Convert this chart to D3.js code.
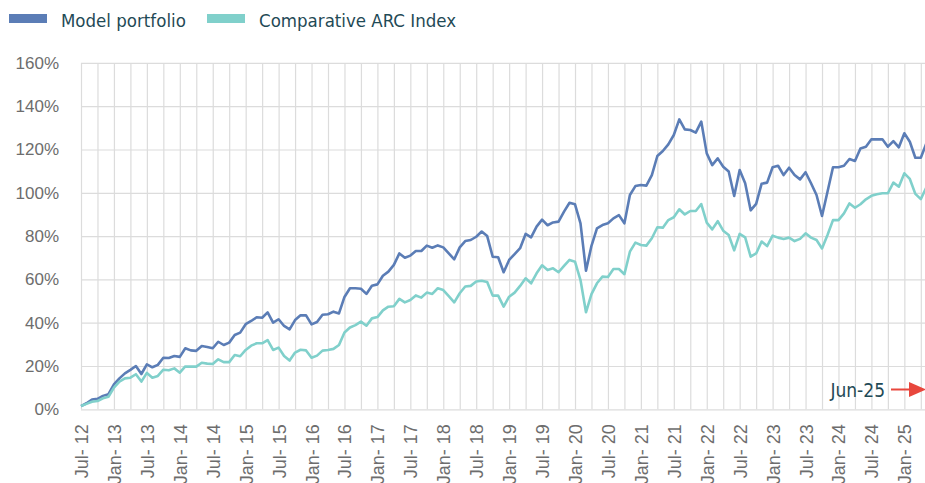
<!DOCTYPE html>
<html>
<head>
<meta charset="utf-8">
<script src="https://cdn.jsdelivr.net/npm/d3@7"></script>
<style>
  body { margin: 0; background: #fff; }
  svg { display: block; font-family: 'DejaVu Sans Condensed', 'DejaVu Sans', sans-serif; font-stretch: condensed; }
</style>
</head>
<body>
<svg id="chart" width="925" height="483"></svg>
<script>
// monthly cumulative return (%), Jul-12 .. May-25
var modelPortfolio = [
  1.5, 2.8, 4.5, 4.8, 6.2, 7, 11.5, 14.3, 16.6, 18.2, 20, 16.3,
  20.8, 19.4, 20.5, 23.8, 23.7, 24.6, 24.2, 28.2, 27.2, 27, 29.2, 28.8,
  28.2, 31.2, 29.7, 30.8, 34.3, 35.4, 39.3, 40.8, 42.5, 42.3, 44.8, 40,
  41.6, 38.5, 36.9, 41.2, 43.4, 43.4, 39.2, 40.3, 43.7, 43.9, 45.1, 44.3,
  51.9, 55.9, 55.9, 55.7, 53.3, 57.1, 57.7, 61.7, 63.6, 66.7, 72, 70,
  71, 73.1, 73.1, 75.6, 74.6, 75.7, 74.8, 72, 69.3, 74.8, 77.7, 78.2,
  79.7, 82.1, 80, 70.5, 70.2, 63.3, 69, 71.7, 74.4, 81, 79.4, 84.4,
  87.6, 85, 86.3, 86.7, 91.3, 95.4, 94.7, 85.9, 64, 75.5, 83.6, 85.1,
  85.9, 88.2, 89.7, 85.9, 99, 103.1, 103.6, 103.3, 108.2, 117, 119.3, 122.4,
  126.7, 133.9, 129.3, 129, 127.8, 132.9, 118.2, 112.8, 115.9, 112, 109.8, 98.5,
  110.5, 104.4, 91.9, 94.9, 104.2, 104.7, 111.8, 112.5, 108.2, 111.6, 108.2, 106.2,
  109.5, 104.4, 99, 89.3, 100.5, 111.8, 111.8, 112.5, 115.6, 114.7, 120.5, 121.3,
  124.7, 124.7, 124.7, 121.3, 123.9, 121, 127.5, 123.6, 116.2, 116.2, 122.8
];
var arcIndex = [
  1.5, 2.5, 3.5, 3.8, 5.1, 5.8, 10, 12.8, 14.3, 14.6, 16.2, 12.8,
  16.8, 14.6, 15.4, 18.3, 18, 18.9, 16.9, 19.8, 19.7, 19.7, 21.5, 21.1,
  20.9, 23.1, 21.8, 21.8, 25.1, 24.5, 27.4, 29.4, 30.5, 30.5, 32, 27.4,
  28.5, 24.6, 22.5, 26.2, 27.5, 27.2, 23.8, 24.8, 27.1, 27.4, 27.9, 29.7,
  35.5, 37.8, 38.9, 40.5, 38.6, 42, 42.6, 45.7, 47.4, 47.6, 51, 49.4,
  50.5, 52.6, 51.6, 53.9, 53.3, 55.9, 55.1, 52.3, 49.4, 53.6, 56.7, 57,
  59, 59.4, 58.8, 52.5, 52.5, 47.4, 52, 53.9, 57, 60.5, 58.2, 62.8,
  66.5, 64.3, 65.1, 63.3, 66.2, 69, 68.2, 59.7, 44.8, 53.2, 58.2, 61.3,
  61.1, 64.8, 64.8, 62.4, 72.8, 77, 75.9, 75.6, 79, 84.1, 83.9, 87.4,
  88.7, 92.4, 90, 91.6, 91.6, 94.8, 86.2, 83.1, 86.9, 82.5, 80.5, 73.4,
  81, 79.4, 70.5, 72, 77.5, 75.4, 80.2, 79.3, 78.7, 79.3, 77.7, 78.7,
  81.3, 79.3, 78.2, 74.3, 80.5, 87.4, 87.4, 90.5, 95.1, 93.1, 94.7, 97,
  98.6, 99.3, 99.8, 99.8, 104.7, 102.8, 109, 106.4, 99.5, 97.1, 102.4
];
var seriesNames = ["Model portfolio", "Comparative ARC Index"];
var seriesColors = ["#5b7db6", "#80d0cb"];

var yTicks = [0, 20, 40, 60, 80, 100, 120, 140, 160];
var xTickLabels = [
  "Jul- 12", "Jan- 13", "Jul- 13", "Jan- 14", "Jul- 14", "Jan- 15", "Jul- 15",
  "Jan- 16", "Jul- 16", "Jan- 17", "Jul- 17", "Jan- 18", "Jul- 18", "Jan- 19",
  "Jul- 19", "Jan- 20", "Jul- 20", "Jan- 21", "Jul- 21", "Jan- 22", "Jul- 22",
  "Jan- 23", "Jul- 23", "Jan- 24", "Jul- 24", "Jan- 25"
];
var endLabel = "Jun-25";

// Jul-12 .. Jun-25, one category per month
var months = d3.timeMonth.range(new Date(2012, 6, 1), new Date(2025, 6, 1));

var svg = d3.select("#chart");
var plotLeft = 81, plotTop = 62.9, plotBottom = 409.3;

var x = d3.scaleLinear()
  .domain([0, months.length - 1])
  .range([plotLeft, plotLeft + 5.489 * (months.length - 1)]);
var y = d3.scaleLinear().domain([0, 160]).range([plotBottom, plotTop]);

// horizontal grid
svg.append("g")
  .attr("transform", "translate(" + plotLeft + ",0)")
  .call(d3.axisRight(y).tickValues(yTicks).tickSize(925 - plotLeft).tickFormat(""))
  .call(function(g) { g.select(".domain").remove(); })
  .selectAll("line").attr("stroke", "#dcdcdc").attr("stroke-width", 1.2);

// vertical grid, every quarter
var quarterIdx = d3.range(0, months.length, 3);
svg.append("g")
  .attr("transform", "translate(0," + plotBottom + ")")
  .call(d3.axisTop(x).tickValues(quarterIdx).tickSize(plotBottom - plotTop).tickFormat(""))
  .call(function(g) { g.select(".domain").remove(); })
  .selectAll("line").attr("stroke", "#dcdcdc").attr("stroke-width", 1.2);

// y labels
svg.append("g")
  .attr("transform", "translate(" + plotLeft + ",0)")
  .call(d3.axisLeft(y).tickValues(yTicks).tickSize(0).tickPadding(22).tickFormat(function(d) { return d + "%"; }))
  .call(function(g) { g.select(".domain").remove(); })
  .selectAll("text")
    .attr("font-family", null)
    .attr("font-size", 17)
    .attr("fill", "#6d6d6d");

// x labels, every half year, rotated
var halfIdx = d3.range(0, xTickLabels.length).map(function(k) { return k * 6; });
svg.append("g")
  .attr("transform", "translate(0," + plotBottom + ")")
  .call(d3.axisBottom(x).tickValues(halfIdx).tickSize(0).tickFormat(function(d, k) { return xTickLabels[k]; }))
  .call(function(g) { g.select(".domain").remove(); })
  .selectAll("text")
    .attr("font-family", null)
    .attr("font-size", 18)
    .attr("fill", "#6d6d6d")
    .attr("text-anchor", "end")
    .attr("transform", "rotate(-90)")
    .attr("x", -15)
    .attr("y", 0)
    .attr("dy", "0.36em");

// lines
var line = d3.line()
  .x(function(d, i) { return x(i); })
  .y(function(d) { return y(d); });

[modelPortfolio, arcIndex].forEach(function(values, k) {
  svg.append("path")
    .datum(values)
    .attr("fill", "none")
    .attr("stroke", seriesColors[k])
    .attr("stroke-width", 2.6)
    .attr("stroke-linejoin", "round")
    .attr("d", line);
});

// legend
var legendX = [9, 207];
seriesNames.forEach(function(name, k) {
  svg.append("rect")
    .attr("x", legendX[k]).attr("y", 14)
    .attr("width", 38).attr("height", 9)
    .attr("fill", seriesColors[k]);
  svg.append("text")
    .attr("x", legendX[k] + 52).attr("y", 26.5)
    .attr("font-size", 18.5)
    .attr("fill", "#1f4a56")
    .text(name);
});

// end marker
svg.append("text")
  .attr("x", 885).attr("y", 396.5)
  .attr("text-anchor", "end")
  .attr("font-size", 19)
  .attr("fill", "#1f4a56")
  .text(endLabel);
svg.append("line")
  .attr("x1", 891).attr("x2", 912)
  .attr("y1", 389.5).attr("y2", 389.5)
  .attr("stroke", "#e8473d").attr("stroke-width", 2);
svg.append("path")
  .attr("d", "M909,382L926,389.5L909,397Z")
  .attr("fill", "#e8473d");
</script>
</body>
</html>
